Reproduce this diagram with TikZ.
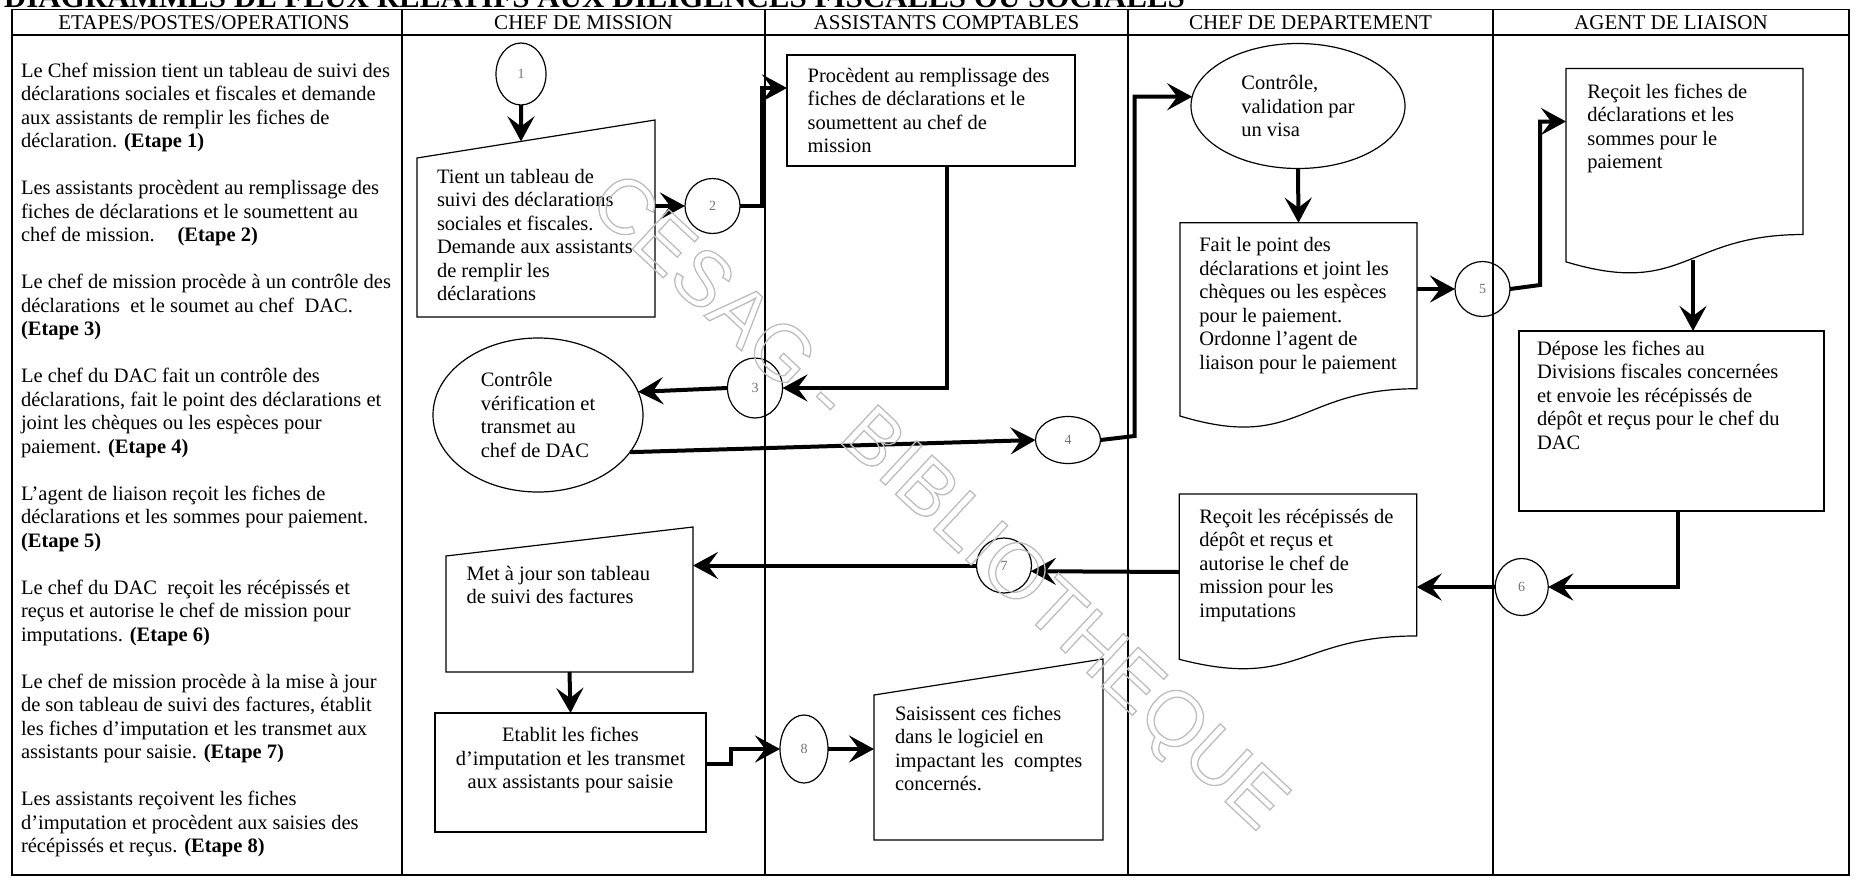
\documentclass[tikz,border=0pt]{standalone}
\usepackage{fontspec}
\setmainfont{Liberation Serif}
\newfontfamily\wmfont{Liberation Sans}
\usetikzlibrary{arrows.meta,calc,shapes.geometric}

% multi-line text blocks whose reference point is the first baseline
\newcommand{\txtl}[1]{\begin{tabular}[t]{@{}l@{}}#1\end{tabular}}
\newcommand{\txtc}[1]{\begin{tabular}[t]{@{}c@{}}#1\end{tabular}}

% outline of a "manual input" box: left top corner lowered by #2
\newcommand{\manoutline}[2]{%
  \draw[outline] ($(#1.north west)+(0,#2)$) -- (#1.north east) -- (#1.south east) -- (#1.south west) -- cycle;}
% outline of a "document" box with a wavy bottom edge
\newcommand{\docoutline}[1]{%
  \draw[outline] (#1.north west) -- (#1.north east) -- ($(#1.north east)!0.802!(#1.south east)$)
    .. controls ($(#1.north)!0.802!(#1.south)$) and ($(#1.north)!1.107!(#1.south)$) ..
    ($(#1.north west)!0.934!(#1.south west)$) -- cycle;}

\begin{document}
\begin{tikzpicture}[x=1pt,y=-1pt,
  every node/.style={inner sep=0pt, outer sep=0pt},
  body/.style={font=\fontsize{20.5}{23.5}\selectfont, anchor=base west},
  hdr/.style={font=\fontsize{21}{24}\selectfont, anchor=base},
  grid/.style={line width=1.1pt},
  outline/.style={line width=1.2pt},
  frame/.style={rectangle, draw=none, anchor=north west},
  boxed/.style={rectangle, draw, line width=1.2pt, anchor=north west},
  numcirc/.style={ellipse, draw, line width=1.2pt, font=\fontsize{14}{16}\selectfont, text=black!55},
  bubble/.style={ellipse, draw, line width=1.2pt, font=\fontsize{20.5}{23.5}\selectfont, align=left},
  flow/.style={line width=4pt, -{Stealth[length=25pt,width=27pt,inset=10pt]}},
]
\useasboundingbox (0,0) rectangle (1856,879);

% ---------- title (runs off the top edge) ----------
\node[anchor=base west, font=\bfseries\fontsize{31}{36}\selectfont] (title) at (4,7)
  {DIAGRAMMES DE FLUX RELATIFS AUX DILIGENCES FISCALES OU SOCIALES};

% ---------- table grid ----------
\draw[grid] (12,9.5) rectangle (1849,875);
\draw[grid] (12,35) -- (1849,35);
\foreach \xx in {402,765,1128,1493} \draw[grid] (\xx,9.5) -- (\xx,875);

\node[hdr] (h1) at (204,29) {ETAPES/POSTES/OPERATIONS};
\node[hdr] (h2) at (583.5,29) {CHEF DE MISSION};
\node[hdr] (h3) at (946.5,29) {ASSISTANTS COMPTABLES};
\node[hdr] (h4) at (1310.5,29) {CHEF DE DEPARTEMENT};
\node[hdr] (h5) at (1671,29) {AGENT DE LIAISON};

% ---------- description of the steps ----------
\node[body] (s1) at (21,77) {\txtl{Le Chef mission tient un tableau de suivi des\\ déclarations sociales et fiscales et demande\\ aux assistants de remplir les fiches de\\ déclaration. \textbf{(Etape 1)}}};
\node[body] (s2) at (21,194.5) {\txtl{Les assistants procèdent au remplissage des\\ fiches de déclarations et le soumettent au\\ chef de mission.\hspace{16pt} \textbf{(Etape 2)}}};
\node[body] (s3) at (21,288.5) {\txtl{Le chef de mission procède à un contrôle des\\ déclarations\ \ et le soumet au chef\ \ DAC.\\ \textbf{(Etape 3)}}};
\node[body] (s4) at (21,382.5) {\txtl{Le chef du DAC fait un contrôle des\\ déclarations, fait le point des déclarations et\\ joint les chèques ou les espèces pour\\ paiement. \textbf{(Etape 4)}}};
\node[body] (s5) at (21,500) {\txtl{L’agent de liaison reçoit les fiches de\\ déclarations et les sommes pour paiement.\\ \textbf{(Etape 5)}}};
\node[body] (s6) at (21,594) {\txtl{Le chef du DAC\ \ reçoit les récépissés et\\ reçus et autorise le chef de mission pour\\ imputations. \textbf{(Etape 6)}}};
\node[body] (s7) at (21,688) {\txtl{Le chef de mission procède à la mise à jour\\ de son tableau de suivi des factures, établit\\ les fiches d’imputation et les transmet aux\\ assistants pour saisie. \textbf{(Etape 7)}}};
\node[body] (s8) at (21,805.5) {\txtl{Les assistants reçoivent les fiches\\ d’imputation et procèdent aux saisies des\\ récépissés et reçus. \textbf{(Etape 8)}}};

% ---------- chef de mission ----------
\node[numcirc, minimum width=50pt, minimum height=62pt] (c1) at (521,74) {1};
\node[frame, minimum width=238pt, minimum height=197pt] (t1) at (417,120) {};
\manoutline{t1}{38}
\node[body] (t1txt) at (437,183.3) {\txtl{Tient un tableau de\\ suivi des déclarations\\ sociales et fiscales.\\ Demande aux assistants\\ de remplir les\\ déclarations}};
\node[numcirc, minimum width=55pt, minimum height=55pt] (c2) at (712.5,206) {2};
\node[bubble, minimum width=210pt, minimum height=154pt] (ctrl) at (538,415) {Contrôle\\ vérification et\\ transmet au\\ chef de DAC};
\node[frame, minimum width=247pt, minimum height=145pt] (met) at (446,527) {};
\manoutline{met}{29}
\node[body] (mettxt) at (466.7,580) {\txtl{Met à jour son tableau\\ de suivi des factures}};
\node[boxed, minimum width=271pt, minimum height=119pt] (etab) at (435,713) {};
\node[body, anchor=base] (etabtxt) at (570.5,741.7) {\txtc{Etablit les fiches\\ d’imputation et les transmet\\ aux assistants pour saisie}};

% ---------- assistants comptables ----------
\node[boxed, minimum width=288pt, minimum height=111pt] (proc) at (787,55) {};
\node[body] (proctxt) at (807.7,82.3) {\txtl{Procèdent au remplissage des\\ fiches de déclarations et le\\ soumettent au chef de\\ mission}};
\node[numcirc, minimum width=55pt, minimum height=60pt] (c3) at (755,388) {3};
\node[numcirc, minimum width=65pt, minimum height=47pt] (c4) at (1068,440) {4};
\node[numcirc, minimum width=55pt, minimum height=55pt] (c7) at (1004,565.5) {7};
\node[numcirc, minimum width=48pt, minimum height=68pt] (c8) at (804,749) {8};
\node[frame, minimum width=229pt, minimum height=181pt] (sais) at (874,659) {};
\manoutline{sais}{36}
\node[body] (saistxt) at (895,720) {\txtl{Saisissent ces fiches\\ dans le logiciel en\\ impactant les\ \ comptes\\ concernés.}};

% ---------- chef de departement ----------
\node[bubble, minimum width=214pt, minimum height=125pt] (visa) at (1298,106) {Contrôle,\\ validation par\\ un visa};
\node[frame, minimum width=237pt, minimum height=207pt] (fait) at (1180,222.7) {};
\docoutline{fait}
\node[body] (faittxt) at (1199.3,251.7) {\txtl{Fait le point des\\ déclarations et joint les\\ chèques ou les espèces\\ pour le paiement.\\ Ordonne l’agent de\\ liaison pour le paiement}};
\node[numcirc, minimum width=55pt, minimum height=55pt] (c5) at (1482.5,289) {5};
\node[frame, minimum width=237.4pt, minimum height=177pt] (rec2) at (1179.3,494) {};
\docoutline{rec2}
\node[body] (rec2txt) at (1199.3,523.3) {\txtl{Reçoit les récépissés de\\ dépôt et reçus et\\ autorise le chef de\\ mission pour les\\ imputations}};

% ---------- agent de liaison ----------
\node[frame, minimum width=237pt, minimum height=207pt] (rec1) at (1566,68.5) {};
\docoutline{rec1}
\node[body] (rec1txt) at (1587.3,98) {\txtl{Reçoit les fiches de\\ déclarations et les\\ sommes pour le\\ paiement}};
\node[boxed, minimum width=305pt, minimum height=180pt] (dep) at (1519,331) {};
\node[body] (deptxt) at (1537,355) {\txtl{Dépose les fiches au\\ Divisions fiscales concernées\\ et envoie les récépissés de\\ dépôt et reçus pour le chef du\\ DAC}};
\node[numcirc, minimum width=53pt, minimum height=57pt] (c6) at (1521.7,587) {6};

% ---------- flow ----------
\coordinate (t1tl) at ($(t1.north west)+(0,38)$);
\coordinate (t1in) at ($(t1tl)!0.437!(t1.north east)$);
\coordinate (rec1out) at ($(rec1.north west)+(127,191)$);

\draw[flow] (c1.south) -- (t1in);
\draw[flow] (c2.west -| t1.east) -- (c2.west);
\draw[flow] (c2.east) -- ++(22,0) |- ($(proc.north west)+(0,33)$);
\draw[flow] ($(proc.south west)+(160,0)$) |- (c3.east);
\draw[flow] (c3.west) -- (ctrl.13);
\draw[flow] (ctrl.-22) -- (c4.west);
\draw[flow] (c4.east) -- ++(34,-4) |- (visa.175);
\draw[flow] (visa.south) -- (fait.north);
\draw[flow] (c5.west -| fait.east) -- (c5.west);
\draw[flow] (c5.east) -- ++(30,-4) |- ($(rec1.north west)+(0,53)$);
\draw[flow] (rec1out) -- (rec1out |- dep.north);
\draw[flow] ($(dep.south west)+(159,0)$) |- (c6.east);
\draw[flow] (c6.west) -- (c6.west -| rec2.east);
\draw[flow] ($(rec2.north west)+(0,78)$) -- (c7.-12);
\draw[flow] (c7.west) -- (c7.west -| met.east);
\draw[flow] (met.south) -- (etab.north);
\draw[flow] ($(etab.east)+(0,-9)$) -- ++(25,0) |- (c8.west);
\draw[flow] (c8.east) -- (c8.east -| sais.west);

% ---------- library stamp, outlined letters ----------
\node[rotate=-43, font=\wmfont\fontsize{78}{86}\selectfont] (stamp) at (936,505)
  {\special{pdf:literal direct q 1 Tr 1.3 w 0.74 G}CESAG - BIBLIOTHEQUE\special{pdf:literal direct Q}};
\end{tikzpicture}
\end{document}
